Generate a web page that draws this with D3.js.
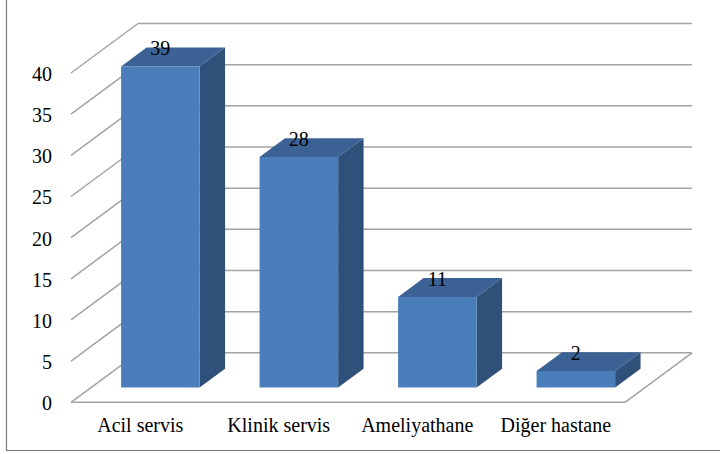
<!DOCTYPE html>
<html>
<head>
<meta charset="utf-8">
<script src="https://cdn.jsdelivr.net/npm/d3@7"></script>
<style>
  html, body { margin: 0; padding: 0; background: #fff; }
  svg { display: block; }
</style>
</head>
<body>
<svg id="chart" width="720" height="454"></svg>
<script>
// Data
const categories = ["Acil servis", "Klinik servis", "Ameliyathane", "Diğer hastane"];
const values = [39, 28, 11, 2];
const yTicks = [0, 5, 10, 15, 20, 25, 30, 35, 40];

const W = 720, H = 454;
const serif = '"Liberation Serif", "Times New Roman", serif';
const svg = d3.select("#chart");

// Front plane of the 3D box and the depth vector
const x0 = 71, x1 = 625;
const depth = { dx: 67, dy: -49.5 };
const barFront = 0.30, barBack = 0.68;   // bar depth as a fraction of the box depth

const x = d3.scaleBand().domain(categories).range([x0, x1])
  .paddingInner(0.433).paddingOuter(0.2165);
const y = d3.scaleLinear().domain([0, 40]).range([402.3, 73]);

const gridColor = "#a3a3a3";
const shift = (px, py, f) => [px + depth.dx * f, py + depth.dy * f];
const line = d3.line();

// Outer frame
svg.append("rect")
  .attr("x", 6.5).attr("y", -2).attr("width", W + 4).attr("height", 452.5)
  .attr("fill", "none").attr("stroke", "#808080").attr("stroke-width", 1.2);

const grid = svg.append("g").attr("fill", "none").attr("stroke", gridColor).attr("stroke-width", 1.5);

// Back wall gridlines and left wall diagonals
yTicks.forEach(t => {
  const yy = y(t);
  grid.append("path").attr("d", line([shift(x0, yy, 1), shift(x1, yy, 1)]));
  grid.append("path").attr("d", line([[x0, yy], shift(x0, yy, 1)]));
});
// Floor: front edge and right edge
grid.append("path").attr("d", line([[x0, y(0)], [x1, y(0)]]));
grid.append("path").attr("d", line([[x1, y(0)], shift(x1, y(0), 1)]));

// Bars
const colors = { front: "#4a7ebb", top: "#3b6195", side: "#2f5078" };
const bars = svg.append("g");
categories.forEach((c, i) => {
  const v = values[i];
  const xl = x(c), xr = x(c) + x.bandwidth();
  const yb = y(0), yt = y(v);
  const FLB = shift(xl, yb, barFront), FRB = shift(xr, yb, barFront);
  const FLT = shift(xl, yt, barFront), FRT = shift(xr, yt, barFront);
  const BLT = shift(xl, yt, barBack), BRT = shift(xr, yt, barBack);
  const BRB = shift(xr, yb, barBack);
  const g = bars.append("g");
  g.append("path").attr("d", line([FRB, FRT, BRT, BRB]) + "Z").attr("fill", colors.side);
  g.append("path").attr("d", line([FLT, FRT, BRT, BLT]) + "Z").attr("fill", colors.top);
  g.append("path").attr("d", line([FLB, FLT, FRT, FRB]) + "Z").attr("fill", colors.front);

  // value label above the front top edge
  g.append("text")
    .attr("x", (FLT[0] + FRT[0]) / 2)
    .attr("y", FLT[1] - 11)
    .attr("text-anchor", "middle")
    .attr("font-family", serif)
    .attr("font-size", 20)
    .attr("fill", "#000")
    .text(v);
});

// Value axis
const yAxis = svg.append("g")
  .attr("transform", `translate(${x0},0)`)
  .call(d3.axisLeft(y).tickValues(yTicks).tickSize(0).tickPadding(19));
yAxis.select(".domain").remove();
yAxis.attr("font-family", serif).attr("font-size", 20);
yAxis.selectAll("text").attr("dy", "0.37em").attr("fill", "#000");

// Category axis
const xAxis = svg.append("g")
  .attr("transform", `translate(0,${y(0)})`)
  .call(d3.axisBottom(x).tickSize(0).tickPadding(15.5));
xAxis.select(".domain").remove();
xAxis.attr("font-family", serif).attr("font-size", 20);
xAxis.selectAll("text").attr("fill", "#000");
</script>
</body>
</html>
